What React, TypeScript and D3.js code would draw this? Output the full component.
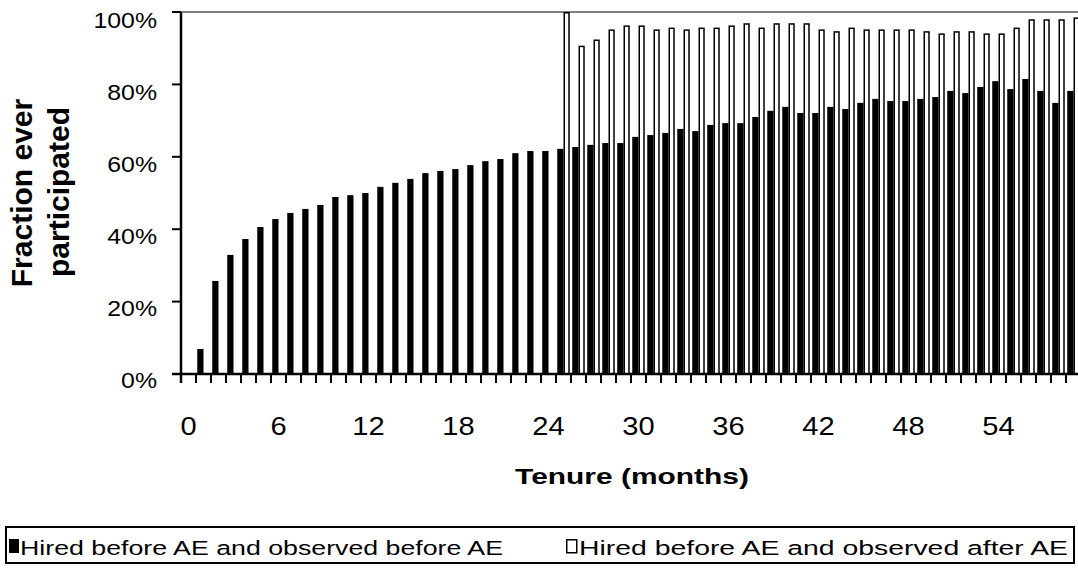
import React from "react";
import * as d3 from "d3";

const months: number[] = d3.range(60);
const tickMonths: number[] = [0, 6, 12, 18, 24, 30, 36, 42, 48, 54];
const yTicks: number[] = [0, 20, 40, 60, 80, 100];

// Hired before AE and observed before AE (%)
const beforeAE: (number | null)[] = [
  0, 6.9, 25.7, 32.9, 37.3, 40.6, 42.8, 44.5, 45.6, 46.7,
  48.9, 49.4, 50.0, 51.7, 52.8, 53.9, 55.5, 56.1, 56.6, 57.7,
  58.8, 59.4, 61.0, 61.6, 61.6, 62.2, 62.7, 63.3, 63.8, 63.8,
  65.5, 66.0, 66.6, 67.7, 67.1, 68.8, 69.3, 69.3, 71.0, 72.7,
  73.8, 72.1, 72.1, 73.8, 73.2, 74.9, 76.0, 75.4, 75.4, 76.0,
  76.5, 78.2, 77.6, 79.3, 80.9, 78.7, 81.5, 78.2, 74.9, 78.2,
];
// Hired before AE and observed after AE (%)
const afterAE: (number | null)[] = [
  null, null, null, null, null, null, null, null, null, null,
  null, null, null, null, null, null, null, null, null, null,
  null, null, null, null, null, 100, 90.7, 92.4, 95.2, 96.3,
  96.3, 95.2, 95.7, 95.2, 95.7, 95.7, 96.3, 96.9, 95.7, 96.9,
  96.9, 96.9, 95.2, 94.7, 95.7, 95.2, 95.2, 95.2, 95.2, 94.7,
  94.1, 94.7, 94.7, 94.1, 94.1, 95.7, 98.0, 98.0, 98.0, 98.5,
];
const seriesNames = ["Hired before AE and observed before AE", "Hired before AE and observed after AE"];

const W = 1078;
const H = 571;
const left = 181;
const right = 1081;
const top = 12;
const bottom = 374;
const FONT = "'Liberation Sans', Arial, sans-serif";

export default function App() {
  const x0 = d3.scaleBand<number>().domain(months).range([left, right]).padding(0);
  const x1 = d3.scaleBand<string>().domain(["b", "a"]).range([0, x0.bandwidth()]).paddingInner(0).paddingOuter(0.2);
  const y = d3.scaleLinear().domain([0, 100]).range([bottom, top]);
  const yLab = d3.scaleLinear().domain([0, 100]).range([388, 28]);
  const bw = x1.bandwidth();

  return (
    <svg width={W} height={H} style={{ position: "absolute", left: 0, top: 0, background: "#fff" }} fontFamily={FONT}>
      <rect x={0} y={0} width={W} height={H} fill="#fff" />
      {/* plot border (gray) */}
      <line x1={left} x2={right} y1={top} y2={top} stroke="#808080" strokeWidth={2} />
      {/* bars */}
      {months.map((m, i) => {
        const gx = x0(m)!;
        const b = beforeAE[i];
        const a = afterAE[i];
        return (
          <g key={m}>
            {b != null && b > 0 && (
              <rect x={gx + x1("b")!} y={y(b)} width={bw} height={bottom - y(b)} fill="#000" />
            )}
            {a != null && (
              <rect x={gx + x1("a")! + 0.75} y={y(a) + 0.75} width={bw - 1.5} height={bottom - y(a) - 0.75} fill="#fff" stroke="#000" strokeWidth={1.5} />
            )}
          </g>
        );
      })}
      {/* y axis */}
      <line x1={left} x2={left} y1={top} y2={bottom + 9} stroke="#000" strokeWidth={2.5} />
      {yTicks.map((t) => (
        <g key={t}>
          <line x1={left - 9} x2={left} y1={y(t)} y2={y(t)} stroke="#000" strokeWidth={2} />
          <g transform={`translate(157,${yLab(t)}) scale(1.13,1)`}>
            <text x={0} y={0} textAnchor="end" fontSize={22} fill="#000">{t}%</text>
          </g>
        </g>
      ))}
      {/* x axis */}
      <line x1={left - 9} x2={right} y1={bottom} y2={bottom} stroke="#000" strokeWidth={2.5} />
      {d3.range(months.length + 1).map((i) => {
        const xx = left + i * x0.step();
        return <line key={i} x1={xx} x2={xx} y1={bottom} y2={bottom + 9} stroke="#000" strokeWidth={2} />;
      })}
      {tickMonths.map((t) => (
        <g key={t} transform={`translate(${x0(t)! + x0.bandwidth() / 2},435) scale(1.12,1)`}>
          <text x={0} y={0} textAnchor="middle" fontSize={26} fill="#000">{t}</text>
        </g>
      ))}
      {/* axis titles */}
      <g transform={`translate(632,484) scale(1.33,1)`}>
        <text x={0} y={0} textAnchor="middle" fontSize={22.5} fontWeight="bold" fill="#000">Tenure (months)</text>
      </g>
      <g transform={`translate(31.5,193) rotate(-90)`}>
        <text x={0} y={0} textAnchor="middle" fontSize={30} fontWeight="bold" fill="#000">Fraction ever</text>
      </g>
      <g transform={`translate(69,192) rotate(-90)`}>
        <text x={0} y={0} textAnchor="middle" fontSize={30} fontWeight="bold" fill="#000">participated</text>
      </g>
      {/* legend */}
      <rect x={6} y={527} width={1068} height={36} fill="#fff" stroke="#000" strokeWidth={2} />
      <rect x={9} y={539} width={10} height={14} fill="#000" />
      <text x={20} y={555} fontSize={20.5} fill="#000" textLength={483} lengthAdjust="spacingAndGlyphs">{seriesNames[0]}</text>
      <rect x={566.75} y={539.75} width={10} height={13} fill="#fff" stroke="#000" strokeWidth={1.5} />
      <text x={579} y={555} fontSize={20.5} fill="#000" textLength={489} lengthAdjust="spacingAndGlyphs">{seriesNames[1]}</text>
    </svg>
  );
}
